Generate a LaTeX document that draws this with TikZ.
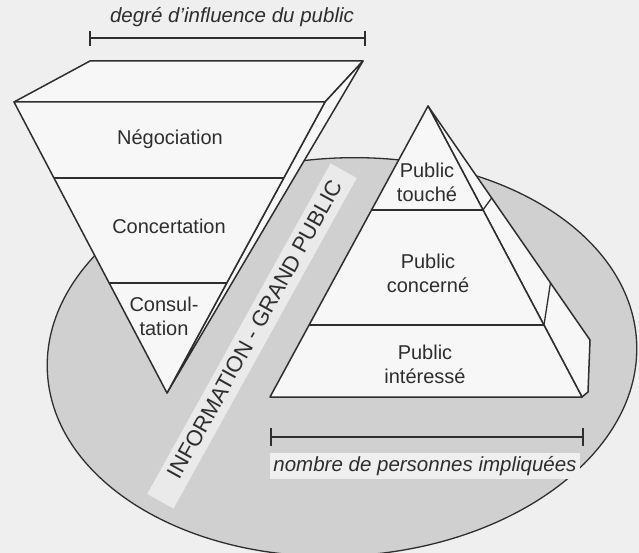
\documentclass[tikz,border=0pt]{standalone}
\usepackage{fontspec}
\setmainfont{Liberation Sans}
\usetikzlibrary{calc}
\definecolor{paper}{HTML}{EFEFEF}
\definecolor{facefill}{HTML}{F7F7F7}
\definecolor{shade}{HTML}{D0D0D0}
\definecolor{bandfill}{HTML}{EAEAEA}
\definecolor{ink}{HTML}{2E2E2E}
\begin{document}
\begin{tikzpicture}[x=1pt,y=-1pt,
  face/.style={fill=facefill, draw=ink, line width=1.5pt, line join=round},
  divider/.style={draw=ink, line width=1.3pt},
  gauge/.style={draw=ink, line width=1.4pt},
  lbl/.style={font=\fontsize{20}{24}\selectfont, text=ink, align=center, inner sep=0pt},
  caption/.style={font=\fontsize{20.5}{24}\selectfont\itshape, text=ink, inner sep=3pt},
  bandtext/.style={inner sep=0pt, font=\fontsize{22}{24}\selectfont, text=ink}]
% page
\fill[paper] (0,0) rectangle (639,553);
\useasboundingbox (0,0) rectangle (639,553);

% the public, as a shaded ellipse
\draw[fill=shade, draw=ink, line width=1.3pt, rotate around={3:(342,357)}]
  (342,357) ellipse [x radius=295pt, y radius=199pt];

% diagonal band of general information
\fill[bandfill, rotate around={61:(252,336)}]
  ([xshift=-189pt, yshift=-15pt]252,336) rectangle ([xshift=189pt, yshift=15pt]252,336);
\node[bandtext, rotate=61] (band) at (255,329) {INFORMATION - GRAND PUBLIC};

% inverted pyramid: degree of influence
\coordinate (lTL) at (90,61);
\coordinate (lTR) at (363,61);
\coordinate (lFL) at (14,102);
\coordinate (lFR) at (325,102);
\coordinate (lA)  at (167,393);
\path[face] (lTL) -- (lTR) -- (lFR) -- (lFL) -- cycle;
\path[face] (lTR) -- (lA) -- (lFR) -- cycle;
\path[face] (lFL) -- (lFR) -- (lA) -- cycle;
\draw[divider] ($(lFL)!0.261!(lA)$) -- ($(lFR)!0.261!(lA)$);
\draw[divider] ($(lFL)!0.622!(lA)$) -- ($(lFR)!0.622!(lA)$);
\node[lbl] (nego) at (170,139) {Négociation};
\node[lbl] (conc) at (169,226) {Concertation};
\node[lbl] (cons) at (164,316) {Consul-\\tation};

% upright pyramid: people involved
\coordinate (rA)  at (428,106);
\coordinate (rL)  at (270,397);
\coordinate (rR)  at (582,397);
\coordinate (rS)  at (590,340);
\coordinate (rS2) at (588,392);
\path[face] (rA) -- (rS) -- (rS2) -- (rR) -- cycle;
\path[face] (rL) -- (rA) -- (rR) -- cycle;
\draw[divider] ($(rA)!0.357!(rL)$) -- ($(rA)!0.357!(rR)$);
\draw[divider] ($(rA)!0.753!(rL)$) -- ($(rA)!0.753!(rR)$);
\draw[divider] ($(rA)!0.357!(rR)$) -- ($(rA)!0.393!(rS)$);
\draw[divider] ($(rA)!0.753!(rR)$) -- ($(rA)!0.756!(rS)$);
\node[lbl] (touche) at (427,182) {Public\\touché};
\node[lbl] (concerne) at (428,273) {Public\\concerné};
\node[lbl] (interesse) at (425,364) {Public\\intéressé};

% scale of influence
\coordinate (g1a) at (90,38);
\coordinate (g1b) at (365,38);
\draw[gauge] (g1a) -- (g1b);
\draw[gauge] ([yshift=7pt]g1a) -- ([yshift=-8pt]g1a);
\draw[gauge] ([yshift=7pt]g1b) -- ([yshift=-8pt]g1b);
\node[caption] (influence) at (232,17) {degré d'influence du public};

% scale of people involved
\coordinate (g2a) at (271,437);
\coordinate (g2b) at (583,437);
\draw[gauge] (g2a) -- (g2b);
\draw[gauge] ([yshift=9pt]g2a) -- ([yshift=-9pt]g2a);
\draw[gauge] ([yshift=9pt]g2b) -- ([yshift=-9pt]g2b);
\node[caption, fill=paper] (nombre) at (425,466) {nombre de personnes impliquées};
\end{tikzpicture}
\end{document}
